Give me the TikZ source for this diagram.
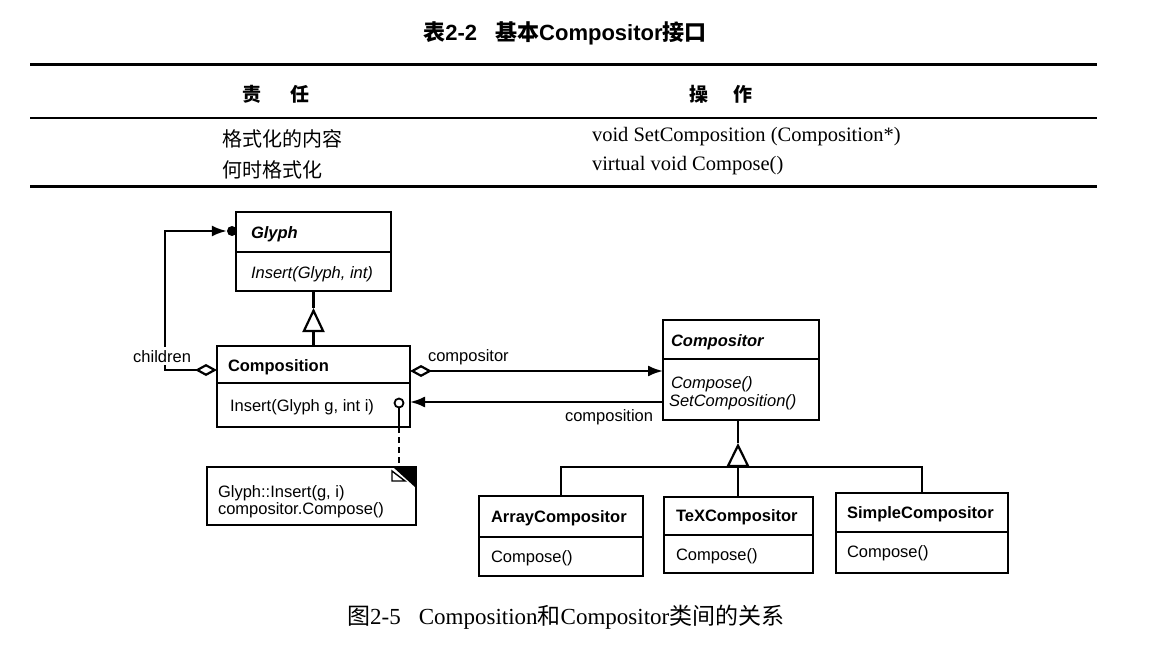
\documentclass[tikz,border=0pt]{standalone}
\usepackage{fontspec}
\setmainfont{Liberation Serif}
\setsansfont{Liberation Sans}
\newfontfamily\cjk{Noto Sans CJK SC}
\newcommand\zh[1]{{\cjk #1}}
\usetikzlibrary{arrows.meta}
\tikzset{
  agg/.tip={Diamond[open, length=22pt, width=12pt, fill=white]},
  nav/.tip={Latex[length=15pt, width=11pt]},
  inh/.tip={Triangle[open, length=24pt, width=22pt]}
}
\begin{document}
\begin{tikzpicture}[x=1pt,y=-1pt,
  box/.style={draw, line width=2.2pt, anchor=north west, inner sep=0pt, outer sep=0pt},
  txt/.style={inner sep=0pt, outer sep=0pt, anchor=base west, font=\sffamily\fontsize{16.5}{18}\selectfont},
  conn/.style={line width=2.2pt},
  sepl/.style={line width=2pt},
  thickrule/.style={line width=3pt},
  thinrule/.style={line width=1.6pt},
  tbl/.style={inner sep=0pt, outer sep=0pt, font=\fontsize{20.5}{24}\selectfont}
]
\useasboundingbox (0,0) rectangle (1163,658);
\fill[white] (0,0) rectangle (1163,658);

% ---------- table ----------
\node[inner sep=0pt, font=\sffamily\bfseries\fontsize{22}{24}\selectfont] (title) at (565,33)
  {\zh{\bfseries 表}2-2\hspace{18pt}\zh{\bfseries 基本}Compositor\zh{\bfseries 接口}};
\draw[thickrule] (30,65) -- (1097,65);
\draw[thinrule] (30,118) -- (1097,118);
\draw[thickrule] (30,187) -- (1097,187);
\node[tbl, font=\cjk\bfseries\fontsize{19}{22}\selectfont] (h1) at (276,94) {责\hspace{30pt}任};
\node[tbl, font=\cjk\bfseries\fontsize{19}{22}\selectfont] (h2) at (721,94) {操\hspace{26pt}作};
\node[tbl, anchor=west, font=\cjk\fontsize{20}{24}\selectfont] (r1a) at (222,139) {格式化的内容};
\node[tbl, anchor=west, font=\cjk\fontsize{20}{24}\selectfont] (r2a) at (222,170) {何时格式化};
\node[tbl, anchor=base west] (r1b) at (592,141.5) {void SetComposition (Composition*)};
\node[tbl, anchor=base west] (r2b) at (592,171) {virtual void Compose()};

% ---------- classes ----------
\node[box, minimum width=155pt, minimum height=79pt] (glyph) at (236,212) {};
\draw[sepl] (glyph.west |- 0,252) -- (glyph.east |- 0,252);
\node[txt] (glyphn) at (251,239) {\bfseries\itshape Glyph};
\node[txt] (glyphm) at (251,278) {\itshape Insert(Glyph, int)};

\node[box, minimum width=193pt, minimum height=81pt] (comp) at (217,346) {};
\draw[sepl] (comp.west |- 0,383) -- (comp.east |- 0,383);
\node[txt] (compn) at (228,371) {\bfseries Composition};
\node[txt] (compm) at (230,411) {Insert(Glyph g, int i)};

\node[box, minimum width=156pt, minimum height=100pt] (compositor) at (663,320) {};
\draw[sepl] (compositor.west |- 0,359) -- (compositor.east |- 0,359);
\node[txt] (compon) at (671,346) {\bfseries\itshape Compositor};
\node[txt] (compom1) at (671,388) {\itshape Compose()};
\node[txt] (compom2) at (669,406) {\itshape SetComposition()};

\node[box, minimum width=164pt, minimum height=80pt] (array) at (479,496) {};
\draw[sepl] (array.west |- 0,537) -- (array.east |- 0,537);
\node[txt] (arrayn) at (491,522) {\bfseries ArrayCompositor};
\node[txt] (arraym) at (491,562) {Compose()};

\node[box, minimum width=149pt, minimum height=76pt] (tex) at (664,497) {};
\draw[sepl] (tex.west |- 0,535) -- (tex.east |- 0,535);
\node[txt] (texn) at (676,521) {\bfseries TeXCompositor};
\node[txt] (texm) at (676,560) {Compose()};

\node[box, minimum width=172pt, minimum height=80pt] (simple) at (836,493) {};
\draw[sepl] (simple.west |- 0,532) -- (simple.east |- 0,532);
\node[txt] (simplen) at (847,518) {\bfseries SimpleCompositor};
\node[txt] (simplem) at (847,557) {Compose()};

% ---------- note ----------
\node[box, minimum width=209pt, minimum height=58pt] (note) at (207,467) {};
\fill (393,467) -- (416,467) -- (416,488) -- cycle;
\draw[line width=1.4pt, fill=white] (392,471) -- (405,481) -- (392,481) -- cycle;
\node[txt] (notet1) at (218,497) {Glyph::Insert(g, i)};
\node[txt] (notet2) at (218,514) {compositor.Compose()};

% ---------- inheritance ----------
\coordinate (gapex) at (313.5,308);
\draw[conn] (gapex |- glyph.south) -- (gapex);
\draw[conn, -{inh}] (comp.north) -- (gapex);

\coordinate (capex) at (738,443);
\coordinate (cbase) at (738,467);
\draw[conn] (capex |- compositor.south) -- (capex);
\draw[conn, -{Triangle[open, length=24pt, width=23pt]}] (cbase) -- (capex);
\draw[conn] (array.north) |- (cbase) -| (simple.north);
\draw[conn] (cbase) -- (cbase |- tex.north);

% ---------- associations ----------
\node[circle, fill, inner sep=0pt, minimum size=10pt] (gdot) at (232,231) {};
\draw[conn, {agg}-{nav}] (comp.west |- 0,370) -| ([xshift=-62pt]gdot.west) -- (gdot.west);
\node[txt, anchor=base east, fill=white, inner xsep=1pt, inner ysep=3pt] (childl) at (192,362) {children};

\draw[conn, {agg}-{nav}] (comp.east |- 0,371) -- (compositor.west |- 0,371);
\node[txt] (compol) at (428,361) {compositor};

\draw[conn, -{nav}] (compositor.west |- 0,402) -- (comp.east |- 0,402);
\node[txt] (compl) at (565,421) {composition};

% ---------- pin and note link ----------
\node[circle, draw, line width=1.8pt, fill=white, inner sep=0pt, minimum size=9pt] (pin) at (399,403) {};
\draw[conn] (pin.south) -- (pin.south |- comp.south);
\draw[conn, dash pattern=on 6pt off 4pt] (pin.south |- comp.south) -- (pin.south |- note.north);

% ---------- caption ----------
\node[inner sep=0pt, anchor=west, font=\fontsize{23}{26}\selectfont] (caption) at (347,617)
  {\zh{图}2-5\hspace{18pt}Composition\zh{和}Compositor\zh{类间的关系}};
\end{tikzpicture}
\end{document}
